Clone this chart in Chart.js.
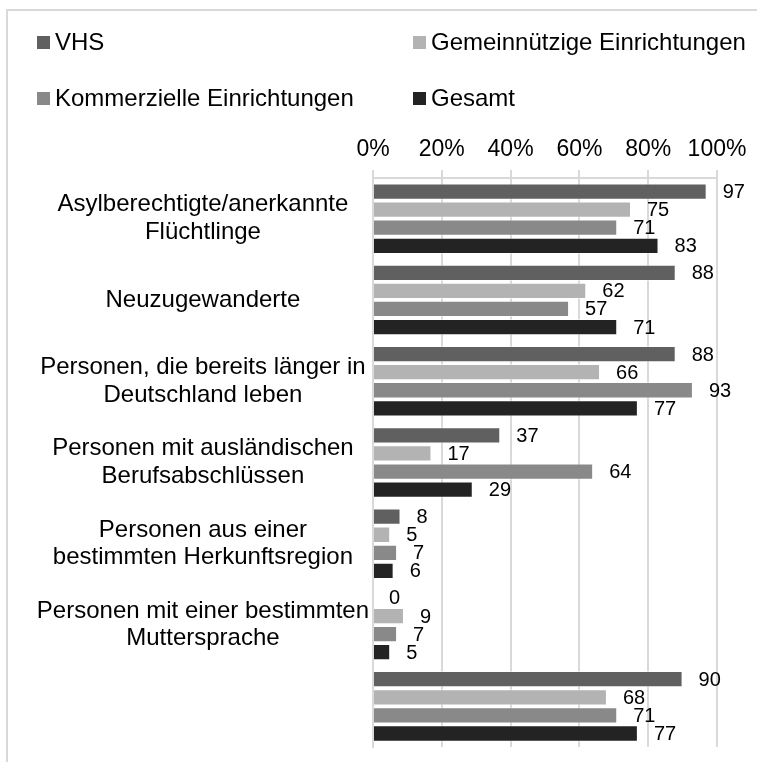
<!DOCTYPE html>
<html>
<head>
<meta charset="utf-8">
<script src="https://cdn.jsdelivr.net/npm/chart.js@4.4.1/dist/chart.umd.min.js"></script>
<style>
  html, body { margin: 0; padding: 0; background: #fff; }
  #wrap { position: relative; width: 757px; height: 762px; overflow: hidden; }
  #frame { position: absolute; left: 6px; top: 9px; width: 900px; height: 900px;
           border-left: 2px solid #d9d9d9; border-top: 2px solid #d9d9d9; }
  #chart { position: absolute; left: 0; top: 0; }
  .lg { position: absolute; font: 24px "Liberation Sans", Arial, sans-serif; color: #000;
        line-height: 28px; white-space: nowrap; }
  .lg i { display: inline-block; width: 13px; height: 13px; margin-right: 5px; vertical-align: 1px; }
</style>
</head>
<body>
<div id="wrap">
  <div id="frame"></div>
  <canvas id="chart" width="757" height="762"></canvas>
  <div id="legend"></div>
</div>
<script>
// categories (y axis), empty last row = overall
const categories = [
  ["Asylberechtigte/anerkannte", "Flüchtlinge"],
  "Neuzugewanderte",
  ["Personen, die bereits länger in", "Deutschland leben"],
  ["Personen mit ausländischen", "Berufsabschlüssen"],
  ["Personen aus einer", "bestimmten Herkunftsregion"],
  ["Personen mit einer bestimmten", "Muttersprache"],
  ""
];

const seriesNames = ["VHS", "Gemeinnützige Einrichtungen", "Kommerzielle Einrichtungen", "Gesamt"];
const seriesColors = ["#606060", "#b3b3b3", "#898989", "#232323"];

const vhs = [97, 88, 88, 37, 8, 0, 90];
const gemeinnuetzig = [75, 62, 66, 17, 5, 9, 68];
const kommerziell = [71, 57, 93, 64, 7, 7, 71];
const gesamt = [83, 71, 77, 29, 6, 5, 77];

const xTicks = [0, 20, 40, 60, 80, 100];

const FONT = '"Liberation Sans", Arial, sans-serif';

// value labels right of each bar
const valueLabels = {
  id: "valueLabels",
  afterDatasetsDraw(chart) {
    const ctx = chart.ctx;
    ctx.save();
    ctx.font = "20px " + FONT;
    ctx.fillStyle = "#000";
    ctx.textBaseline = "middle";
    ctx.textAlign = "left";
    chart.data.datasets.forEach((ds, i) => {
      chart.getDatasetMeta(i).data.forEach((bar, j) => {
        ctx.fillText(String(ds.data[j]), bar.x + 16, bar.y + 1);
      });
    });
    ctx.restore();
  }
};

const allSeries = [vhs, gemeinnuetzig, kommerziell, gesamt];

const chart = new Chart(document.getElementById("chart"), {
  type: "bar",
  data: {
    labels: categories,
    datasets: allSeries.map((d, i) => ({
      label: seriesNames[i],
      data: d,
      backgroundColor: seriesColors[i],
      borderColor: "rgba(255,255,255,0.55)",
      borderWidth: 1,
      categoryPercentage: 0.89,
      barPercentage: 0.9
    }))
  },
  options: {
    indexAxis: "y",
    responsive: false,
    animation: false,
    layout: { padding: { top: 120, right: 40, bottom: 15, left: 0 } },
    plugins: { legend: { display: false }, tooltip: { enabled: false } },
    scales: {
      x: {
        position: "top",
        min: 0,
        max: 100,
        afterBuildTicks: (s) => { s.ticks = xTicks.map(v => ({ value: v })); },
        afterFit: (s) => { s.height = 58; s.paddingLeft = 0; s.paddingRight = 0; },
        grid: { color: "#d9d9d9", lineWidth: 2, drawTicks: true, tickLength: 8 },
        border: { display: true, color: "#d9d9d9", width: 2 },
        ticks: {
          padding: 7,
          color: "#000",
          font: { family: FONT, size: 23 },
          callback: (v) => v + "%"
        }
      },
      y: {
        afterFit: (s) => { s.width = 373; s.paddingTop = 0; s.paddingBottom = 0; },
        grid: { display: false, drawTicks: false, tickLength: 0 },
        border: { display: true, color: "#d9d9d9", width: 2 },
        ticks: {
          crossAlign: "center",
          padding: 4,
          color: "#000",
          autoSkip: false,
          font: { family: FONT, size: 24, lineHeight: 1.15 }
        }
      }
    }
  },
  plugins: [valueLabels]
});

// legend in two columns, colours taken from the chart datasets
const legendPos = [[37, 28], [413, 28], [37, 84], [413, 84]];
const legendEl = document.getElementById("legend");
chart.data.datasets.forEach((ds, i) => {
  const d = document.createElement("div");
  d.className = "lg";
  d.style.left = legendPos[i][0] + "px";
  d.style.top = legendPos[i][1] + "px";
  d.innerHTML = '<i style="background:' + ds.backgroundColor + '"></i>' + ds.label;
  legendEl.appendChild(d);
});
</script>
</body>
</html>
